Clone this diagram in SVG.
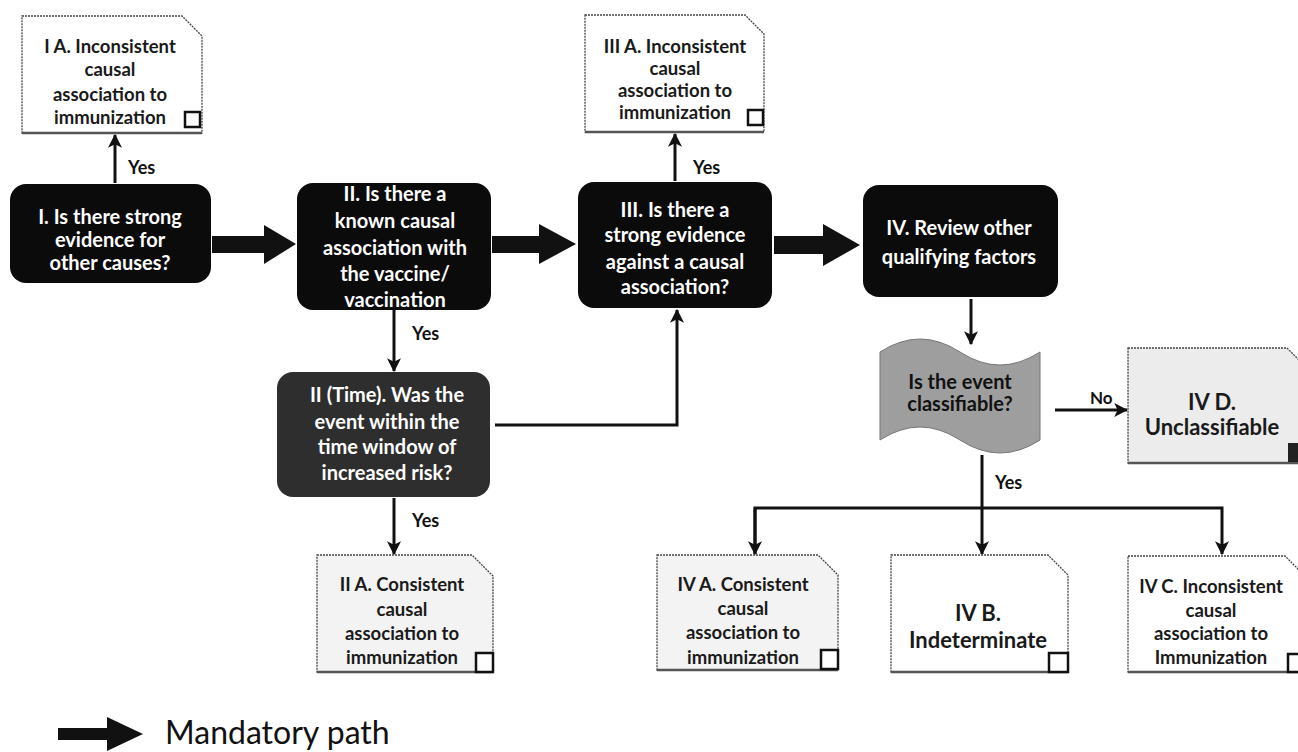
<svg xmlns="http://www.w3.org/2000/svg" width="1298" height="752" viewBox="0 0 1298 752">
<defs>
<style>
.node{fill:#0b0b0b;}
.nt{font-family:Lato,"Open Sans",sans-serif;font-weight:bold;font-size:20px;fill:#fff;text-anchor:middle;}
.doc{stroke:#444;stroke-width:1.3;stroke-dasharray:2 1;}
.dt{font-family:Lato,"Open Sans",sans-serif;font-weight:bold;font-size:18.5px;fill:#1a1a1a;text-anchor:middle;}
.dtl{font-family:Lato,"Open Sans",sans-serif;font-weight:bold;font-size:22px;fill:#1a1a1a;text-anchor:middle;}
.sq{fill:#fff;stroke:#111;stroke-width:2.5;}
.lbl{font-family:Lato,"Open Sans",sans-serif;font-weight:bold;font-size:18px;fill:#111;}
.ln{fill:none;stroke:#111;stroke-width:3;}
.thick{fill:#111;}
.base{stroke:#555;stroke-width:2.5;}
</style>
<marker id="ah" viewBox="0 0 12 12" refX="11" refY="6" markerWidth="14" markerHeight="14" markerUnits="userSpaceOnUse" orient="auto">
<path d="M0,0 L12,6 L0,12 L3,6 z" fill="#111"/>
</marker>
</defs>
<rect width="1298" height="752" fill="#fff"/>

<g id="connectors">
<polygon class="thick" points="212,236 264,236 264,225 296,244 264,264 264,253 212,253"/>
<polygon class="thick" points="492,236 539,236 539,224 576,244 539,264 539,253 492,253"/>
<polygon class="thick" points="774,236 823,236 823,224 860,245 823,266 823,254 774,254"/>
<line class="ln" x1="115" y1="183" x2="115" y2="135" marker-end="url(#ah)"/>
<text class="lbl" x="128" y="174">Yes</text>
<line class="ln" x1="675" y1="181" x2="675" y2="134" marker-end="url(#ah)"/>
<text class="lbl" x="693" y="174">Yes</text>
<line class="ln" x1="394" y1="310" x2="394" y2="371" marker-end="url(#ah)"/>
<text class="lbl" x="412" y="340">Yes</text>
<line class="ln" x1="394" y1="498" x2="394" y2="554" marker-end="url(#ah)"/>
<text class="lbl" x="412" y="527">Yes</text>
<polyline class="ln" points="495,425 677,425 677,310" marker-end="url(#ah)"/>
<line class="ln" x1="971" y1="299" x2="971" y2="344" marker-end="url(#ah)"/>
<line class="ln" x1="1055" y1="410" x2="1127" y2="410" marker-end="url(#ah)"/>
<text class="lbl" style="font-size:17px" x="1090" y="404">No</text>
<line class="ln" x1="982" y1="455" x2="982" y2="554" marker-end="url(#ah)"/>
<text class="lbl" x="995" y="489">Yes</text>
<polyline class="ln" points="755,554 755,508 1222,508 1222,554" marker-end="url(#ah)"/>
<line class="ln" x1="755" y1="508" x2="755" y2="554" marker-end="url(#ah)"/>
</g>

<g id="nodeI">
<rect class="node" x="10" y="184" width="201" height="99" rx="16"/>
<text class="nt" x="110" y="224">I. Is there strong</text>
<text class="nt" x="110" y="247">evidence for</text>
<text class="nt" x="110" y="270">other causes?</text>
</g>

<g id="nodeIA">
<path class="doc" fill="#fff" d="M22,16 H182 L202,36 V133 H22 Z"/>
<line class="base" x1="22" y1="133" x2="202" y2="133"/>
<text class="dt" x="110" y="53">I A. Inconsistent</text>
<text class="dt" x="110" y="76">causal</text>
<text class="dt" x="110" y="101">association to</text>
<text class="dt" x="110" y="124">immunization</text>
<rect class="sq" x="185" y="112" width="15" height="15"/>
</g>

<g id="nodeII">
<rect class="node" x="297" y="183" width="194" height="127" rx="16"/>
<text class="nt" x="395" y="201">II. Is there a</text>
<text class="nt" x="395" y="228">known causal</text>
<text class="nt" x="395" y="255">association with</text>
<text class="nt" x="395" y="281">the vaccine/</text>
<text class="nt" x="395" y="307">vaccination</text>
</g>

<g id="nodeIItime">
<rect x="277" y="372" width="213" height="125" rx="16" fill="#2e2e2e"/>
<text class="nt" x="387" y="402">II (Time). Was the</text>
<text class="nt" x="387" y="429">event within the</text>
<text class="nt" x="387" y="454">time window of</text>
<text class="nt" x="387" y="480">increased risk?</text>
</g>

<g id="nodeIIA">
<path class="doc" fill="#f3f3f3" d="M317,555 H472 L493,576 V672 H317 Z"/>
<line class="base" x1="317" y1="672" x2="493" y2="672"/>
<text class="dt" x="402" y="591">II A. Consistent</text>
<text class="dt" x="402" y="616">causal</text>
<text class="dt" x="402" y="640">association to</text>
<text class="dt" x="402" y="664">immunization</text>
<rect class="sq" x="476" y="653" width="17" height="19"/>
</g>

<g id="nodeIII">
<rect class="node" x="578" y="182" width="194" height="126" rx="16"/>
<text class="nt" x="675" y="217">III. Is there a</text>
<text class="nt" x="675" y="242">strong evidence</text>
<text class="nt" x="675" y="269">against a causal</text>
<text class="nt" x="675" y="294">association?</text>
</g>

<g id="nodeIIIA">
<path class="doc" fill="#fff" d="M585,15 H745 L764,34 V132 H585 Z"/>
<line class="base" x1="585" y1="132" x2="764" y2="132"/>
<text class="dt" x="675" y="53">III A. Inconsistent</text>
<text class="dt" x="675" y="75">causal</text>
<text class="dt" x="675" y="97">association to</text>
<text class="dt" x="675" y="119">immunization</text>
<rect class="sq" x="748" y="110" width="15" height="15"/>
</g>

<g id="nodeIV">
<rect class="node" x="863" y="185" width="195" height="112" rx="16"/>
<text class="nt" x="959" y="235">IV. Review other</text>
<text class="nt" x="959" y="264">qualifying factors</text>
</g>

<g id="nodeClassifiable">
<path fill="#9e9e9e" stroke="#777" stroke-width="1" d="M880,352 Q920,326 960,352 T1040,352 L1040,440 Q1000,466 960,440 T880,440 Z"/>
<text class="dt" style="font-size:20px;fill:#111" x="960" y="389">Is the event</text>
<text class="dt" style="font-size:20px;fill:#111" x="960" y="411">classifiable?</text>
</g>

<g id="nodeIVD">
<path class="doc" fill="#ececec" d="M1128,348 H1287 L1306,367 V463 H1128 Z"/>
<line class="base" x1="1128" y1="463" x2="1306" y2="463"/>
<text class="dtl" x="1212" y="410">IV D.</text>
<text class="dtl" x="1212" y="435">Unclassifiable</text>
<rect x="1288" y="443" width="18" height="19" fill="#222"/>
</g>

<g id="nodeIVA">
<path class="doc" fill="#f3f3f3" d="M657,555 H818 L838,575 V670 H657 Z"/>
<line class="base" x1="657" y1="670" x2="838" y2="670"/>
<text class="dt" x="743" y="591">IV A. Consistent</text>
<text class="dt" x="743" y="615">causal</text>
<text class="dt" x="743" y="639">association to</text>
<text class="dt" x="743" y="664">immunization</text>
<rect class="sq" x="821" y="650" width="17" height="19"/>
</g>

<g id="nodeIVB">
<path class="doc" fill="#fff" d="M891,555 H1048 L1068,575 V672 H891 Z"/>
<line class="base" x1="891" y1="672" x2="1068" y2="672"/>
<text class="dtl" x="978" y="621">IV B.</text>
<text class="dtl" x="978" y="648">Indeterminate</text>
<rect class="sq" x="1049" y="653" width="19" height="19"/>
</g>

<g id="nodeIVC">
<path class="doc" fill="#fff" d="M1128,556 H1285 L1306,577 V672 H1128 Z"/>
<line class="base" x1="1128" y1="672" x2="1306" y2="672"/>
<text class="dt" x="1211" y="593">IV C. Inconsistent</text>
<text class="dt" x="1211" y="617">causal</text>
<text class="dt" x="1211" y="640">association to</text>
<text class="dt" x="1211" y="664">Immunization</text>
<rect class="sq" x="1288" y="654" width="18" height="18"/>
</g>

<g id="legend">
<polygon class="thick" points="58,728 107,728 107,717 143,734 107,751 107,740 58,740"/>
<text x="165" y="744" style="font-family:Lato,'Open Sans',sans-serif;font-size:32px;fill:#111">Mandatory path</text>
</g>
</svg>
